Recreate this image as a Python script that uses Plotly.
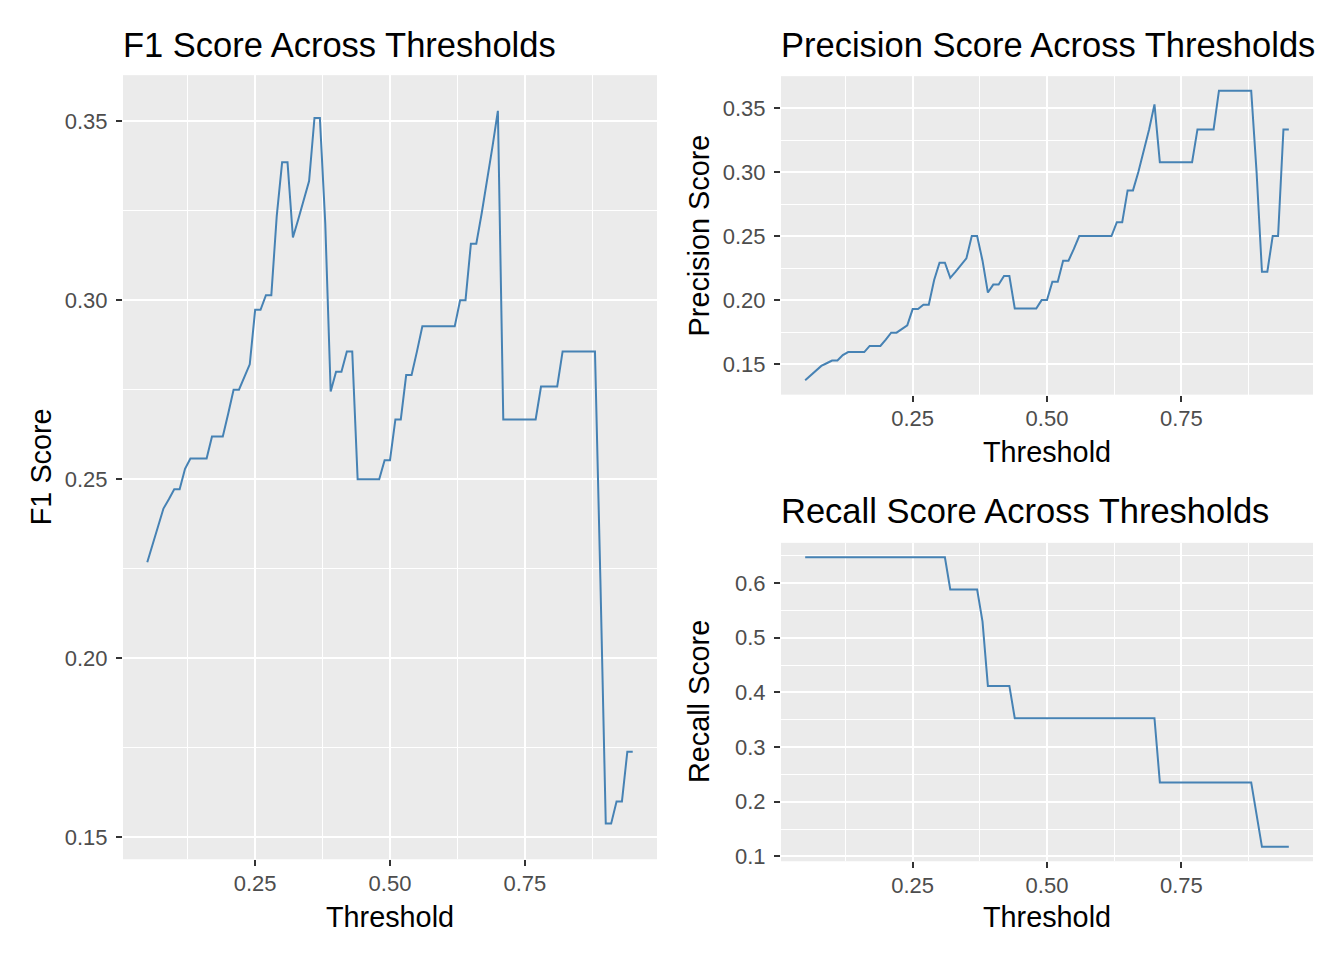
import plotly.graph_objects as go

# ---------------- data ----------------
thresholds = [0.05, 0.06, 0.07, 0.08, 0.09, 0.10, 0.11, 0.12, 0.13, 0.14,
              0.15, 0.16, 0.17, 0.18, 0.19, 0.20, 0.21, 0.22, 0.23, 0.24,
              0.25, 0.26, 0.27, 0.28, 0.29, 0.30, 0.31, 0.32, 0.33, 0.34,
              0.35, 0.36, 0.37, 0.38, 0.39, 0.40, 0.41, 0.42, 0.43, 0.44,
              0.45, 0.46, 0.47, 0.48, 0.49, 0.50, 0.51, 0.52, 0.53, 0.54,
              0.55, 0.56, 0.57, 0.58, 0.59, 0.60, 0.61, 0.62, 0.63, 0.64,
              0.65, 0.66, 0.67, 0.68, 0.69, 0.70, 0.71, 0.72, 0.73, 0.74,
              0.75, 0.76, 0.77, 0.78, 0.79, 0.80, 0.81, 0.82, 0.83, 0.84,
              0.85, 0.86, 0.87, 0.88, 0.89, 0.90, 0.91, 0.92, 0.93, 0.94,
              0.95]

f1_score = [0.2268, 0.2316, 0.2366, 0.2418, 0.2444, 0.2472, 0.2472, 0.2529, 0.2558, 0.2558,
            0.2558, 0.2558, 0.2619, 0.2619, 0.2619, 0.2683, 0.2750, 0.2750, 0.2785, 0.2821,
            0.2973, 0.2973, 0.3014, 0.3014, 0.3235, 0.3385, 0.3385, 0.3175, 0.3226, 0.3279,
            0.3333, 0.3509, 0.3509, 0.3214, 0.2745, 0.2800, 0.2800, 0.2857, 0.2857, 0.2500,
            0.2500, 0.2500, 0.2500, 0.2500, 0.2553, 0.2553, 0.2667, 0.2667, 0.2791, 0.2791,
            0.2857, 0.2927, 0.2927, 0.2927, 0.2927, 0.2927, 0.2927, 0.2927, 0.3000, 0.3000,
            0.3158, 0.3158, 0.3243, 0.3333, 0.3429, 0.3529, 0.2667, 0.2667, 0.2667, 0.2667,
            0.2667, 0.2667, 0.2667, 0.2759, 0.2759, 0.2759, 0.2759, 0.2857, 0.2857, 0.2857,
            0.2857, 0.2857, 0.2857, 0.2857, 0.2222, 0.1538, 0.1538, 0.1600, 0.1600, 0.1739,
            0.1739]

precision_score = [0.1375, 0.1410, 0.1447, 0.1486, 0.1507, 0.1528, 0.1528, 0.1571, 0.1594, 0.1594,
                   0.1594, 0.1594, 0.1642, 0.1642, 0.1642, 0.1692, 0.1746, 0.1746, 0.1774, 0.1803,
                   0.1930, 0.1930, 0.1964, 0.1964, 0.2157, 0.2292, 0.2292, 0.2174, 0.2222, 0.2273,
                   0.2326, 0.2500, 0.2500, 0.2308, 0.2059, 0.2121, 0.2121, 0.2188, 0.2188, 0.1935,
                   0.1935, 0.1935, 0.1935, 0.1935, 0.2000, 0.2000, 0.2143, 0.2143, 0.2308, 0.2308,
                   0.2400, 0.2500, 0.2500, 0.2500, 0.2500, 0.2500, 0.2500, 0.2500, 0.2609, 0.2609,
                   0.2857, 0.2857, 0.3000, 0.3158, 0.3333, 0.3529, 0.3077, 0.3077, 0.3077, 0.3077,
                   0.3077, 0.3077, 0.3077, 0.3333, 0.3333, 0.3333, 0.3333, 0.3636, 0.3636, 0.3636,
                   0.3636, 0.3636, 0.3636, 0.3636, 0.3000, 0.2222, 0.2222, 0.2500, 0.2500, 0.3333,
                   0.3333]

recall_score = [0.6471, 0.6471, 0.6471, 0.6471, 0.6471, 0.6471, 0.6471, 0.6471, 0.6471, 0.6471,
                0.6471, 0.6471, 0.6471, 0.6471, 0.6471, 0.6471, 0.6471, 0.6471, 0.6471, 0.6471,
                0.6471, 0.6471, 0.6471, 0.6471, 0.6471, 0.6471, 0.6471, 0.5882, 0.5882, 0.5882,
                0.5882, 0.5882, 0.5882, 0.5294, 0.4118, 0.4118, 0.4118, 0.4118, 0.4118, 0.3529,
                0.3529, 0.3529, 0.3529, 0.3529, 0.3529, 0.3529, 0.3529, 0.3529, 0.3529, 0.3529,
                0.3529, 0.3529, 0.3529, 0.3529, 0.3529, 0.3529, 0.3529, 0.3529, 0.3529, 0.3529,
                0.3529, 0.3529, 0.3529, 0.3529, 0.3529, 0.3529, 0.2353, 0.2353, 0.2353, 0.2353,
                0.2353, 0.2353, 0.2353, 0.2353, 0.2353, 0.2353, 0.2353, 0.2353, 0.2353, 0.2353,
                0.2353, 0.2353, 0.2353, 0.2353, 0.1765, 0.1176, 0.1176, 0.1176, 0.1176, 0.1176,
                0.1176]

x_ticks = [0.25, 0.50, 0.75]
x_tick_labels = ["0.25", "0.50", "0.75"]
x_minor = [0.125, 0.375, 0.625, 0.875]
f1_ticks = [0.15, 0.20, 0.25, 0.30, 0.35]
f1_tick_labels = ["0.15", "0.20", "0.25", "0.30", "0.35"]
f1_minor = [0.175, 0.225, 0.275, 0.325]
prec_ticks = [0.15, 0.20, 0.25, 0.30, 0.35]
prec_tick_labels = ["0.15", "0.20", "0.25", "0.30", "0.35"]
prec_minor = [0.175, 0.225, 0.275, 0.325]
rec_ticks = [0.1, 0.2, 0.3, 0.4, 0.5, 0.6]
rec_tick_labels = ["0.1", "0.2", "0.3", "0.4", "0.5", "0.6"]
rec_minor = [0.15, 0.25, 0.35, 0.45, 0.55, 0.65]

# ---------------- layout constants ----------------
OFF = 8                      # page body margin of the browser
VS = 0.9902                  # vertical squeeze seen in the photographed page
W, H = 1344 - 2 * OFF, 950
FONT = "Liberation Sans, Arial, sans-serif"
LINE = "#4682B4"
PANEL_BG = "#EBEBEB"

# target pixel boxes in picture coordinates (left, right, top, bottom)
BOX = {
    "f1": (123, 657, 75, 858),
    "prec": (781, 1313, 76, 394),
    "rec": (781, 1313, 542, 860),
}


def px(x):
    return (x - OFF) / W


def py(y):
    return 1 - (y / VS - OFF) / H


def xdom(b):
    return [px(b[0]), px(b[1])]


def ydom(b):
    return [py(b[3]), py(b[2])]


def expand(vals):
    lo, hi = min(vals), max(vals)
    pad = (hi - lo) * 0.05
    return [lo - pad, hi + pad]


fig = go.Figure()
for xs, ys, xa, ya in [(thresholds, f1_score, "x", "y"),
                       (thresholds, precision_score, "x2", "y2"),
                       (thresholds, recall_score, "x3", "y3")]:
    fig.add_trace(go.Scatter(x=xs, y=ys, mode="lines",
                             line=dict(color=LINE, width=2), xaxis=xa, yaxis=ya,
                             showlegend=False, hoverinfo="x+y"))

tickfont = dict(family=FONT, size=22, color="#4D4D4D")
xr = expand(thresholds)


def xaxis_cfg(b, anchor):
    return dict(domain=xdom(b), anchor=anchor, range=xr,
                tickmode="array", tickvals=x_ticks, ticktext=x_tick_labels,
                showgrid=True, gridcolor="white", gridwidth=2.2,
                minor=dict(tickmode="array", tickvals=x_minor, showgrid=True,
                           gridcolor="white", gridwidth=1.1, ticks=""),
                ticks="outside", ticklen=6, tickwidth=2, tickcolor="#333333",
                tickfont=tickfont, zeroline=False, showline=False,
                ticklabelstandoff=-2, fixedrange=True)


def yaxis_cfg(b, anchor, vals, ticks, labels, minor):
    return dict(domain=ydom(b), anchor=anchor, range=expand(vals),
                tickmode="array", tickvals=ticks, ticktext=labels,
                showgrid=True, gridcolor="white", gridwidth=2.2,
                minor=dict(tickmode="array", tickvals=minor, showgrid=True,
                           gridcolor="white", gridwidth=1.1, ticks=""),
                ticks="outside", ticklen=6, tickwidth=2, tickcolor="#333333",
                tickfont=tickfont, zeroline=False, showline=False,
                ticklabelstandoff=4, fixedrange=True)


fig.update_layout(
    width=W, height=H,
    margin=dict(l=0, r=0, t=0, b=0),
    paper_bgcolor="white", plot_bgcolor=PANEL_BG,
    xaxis=xaxis_cfg(BOX["f1"], "y"),
    yaxis=yaxis_cfg(BOX["f1"], "x", f1_score, f1_ticks, f1_tick_labels, f1_minor),
    xaxis2=xaxis_cfg(BOX["prec"], "y2"),
    yaxis2=yaxis_cfg(BOX["prec"], "x2", precision_score, prec_ticks, prec_tick_labels, prec_minor),
    xaxis3=xaxis_cfg(BOX["rec"], "y3"),
    yaxis3=yaxis_cfg(BOX["rec"], "x3", recall_score, rec_ticks, rec_tick_labels, rec_minor),
    showlegend=False,
)


def ann(text, x, y, size, xanchor="center", angle=0):
    fig.add_annotation(text=text, x=px(x), y=py(y), xref="paper", yref="paper",
                       xanchor=xanchor, yanchor="middle", showarrow=False,
                       textangle=angle, font=dict(family=FONT, size=size, color="black"))


# panel titles
ann("F1 Score Across Thresholds", 121, 45, 34.5, xanchor="left")
ann("Precision Score Across Thresholds", 779, 45, 34.5, xanchor="left")
ann("Recall Score Across Thresholds", 779, 510, 34.5, xanchor="left")

# axis titles
ann("Threshold", (BOX["f1"][0] + BOX["f1"][1]) / 2, 916, 28.8)
ann("Threshold", (BOX["prec"][0] + BOX["prec"][1]) / 2, 451, 28.8)
ann("Threshold", (BOX["rec"][0] + BOX["rec"][1]) / 2, 916, 28.8)
ann("F1 Score", 41, (BOX["f1"][2] + BOX["f1"][3]) / 2, 28.8, angle=-90)
ann("Precision Score", 699, (BOX["prec"][2] + BOX["prec"][3]) / 2, 28.8, angle=-90)
ann("Recall Score", 699, (BOX["rec"][2] + BOX["rec"][3]) / 2, 28.8, angle=-90)

fig.write_html("out.html")
